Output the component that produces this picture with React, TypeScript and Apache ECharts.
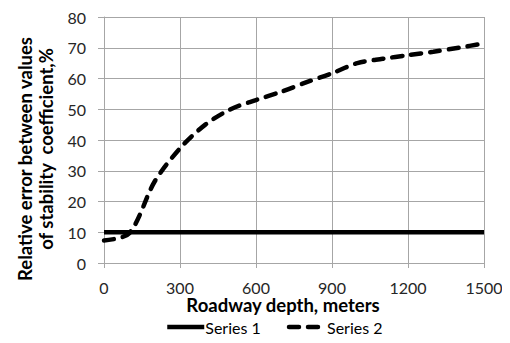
import React, { useEffect, useRef } from "react";
import * as echarts from "echarts";

const depths = [0, 100, 200, 300, 400, 500, 600, 700, 800, 900, 1000, 1100, 1200, 1300, 1400, 1500];
const series1Values = [10, 10, 10, 10, 10, 10, 10, 10, 10, 10, 10, 10, 10, 10, 10, 10];
const series2Values = [7.3, 9.7, 26.5, 37.3, 45, 50, 53, 55.7, 58.8, 61.7, 65, 66.4, 67.6, 68.7, 70, 71.4];
const seriesNames = ["Series 1", "Series 2"];
const xTitle = "Roadway depth, meters";
const yTitleLines = ["Relative error between values", "of stability  coefficient,%"];

const FONT = "Lato, 'Open Sans', sans-serif";

export default function App() {
  const ref = useRef<HTMLDivElement>(null);
  useEffect(() => {
    if (!ref.current) return;
    const chart = echarts.init(ref.current, undefined, { renderer: "svg" });
    const gridColor = "#a6a6a6";
    chart.setOption({
      animation: false,
      backgroundColor: "#ffffff",
      grid: { left: 104, right: 26, top: 17, bottom: 80 },
      xAxis: {
        type: "value",
        min: 0,
        max: 1500,
        interval: 300,
        axisLine: { show: true, lineStyle: { color: gridColor, width: 1 } },
        axisTick: { show: true, length: 5, lineStyle: { color: gridColor } },
        splitLine: { show: true, lineStyle: { color: gridColor, width: 1 } },
        axisLabel: {
          color: "#262626",
          fontSize: 16,
          fontFamily: FONT,
          margin: 16,
          formatter: (v: number) => String(v),
        },
      },
      yAxis: {
        type: "value",
        min: 0,
        max: 80,
        interval: 10,
        axisLine: { show: true, lineStyle: { color: gridColor, width: 1 } },
        axisTick: { show: true, length: 6, lineStyle: { color: gridColor } },
        splitLine: { show: true, lineStyle: { color: gridColor, width: 1 } },
        axisLabel: { color: "#262626", fontSize: 16, fontFamily: FONT, margin: 18 },
      },
      legend: {
        left: 165,
        top: 319,
        padding: 0,
        itemWidth: 37,
        itemHeight: 14,
        itemGap: 26,
        itemStyle: { opacity: 0 },
        lineStyle: { width: 4.5 },
        textStyle: { color: "#000", fontSize: 16, fontFamily: FONT, padding: [0, 0, 0, -4] },
        data: seriesNames,
      },
      graphic: [
        {
          type: "text",
          x: 283,
          y: 305,
          style: {
            text: xTitle,
            font: `bold 18.5px ${FONT}`,
            fill: "#000",
            align: "center",
            verticalAlign: "middle",
          },
        },
        {
          type: "text",
          x: 25,
          y: 159,
          rotation: Math.PI / 2,
          style: {
            text: yTitleLines[0],
            font: `bold 18.5px ${FONT}`,
            fill: "#000",
            align: "center",
            verticalAlign: "middle",
          },
        },
        {
          type: "text",
          x: 46,
          y: 149,
          rotation: Math.PI / 2,
          style: {
            text: yTitleLines[1],
            font: `bold 18.5px ${FONT}`,
            fill: "#000",
            align: "center",
            verticalAlign: "middle",
          },
        },
      ],
      series: [
        {
          name: seriesNames[0],
          type: "line",
          data: depths.map((d, i) => [d, series1Values[i]]),
          symbol: "none",
          lineStyle: { color: "#000", width: 4.5, type: "solid" },
          itemStyle: { color: "#000" },
          z: 3,
        },
        {
          name: seriesNames[1],
          type: "line",
          data: depths.map((d, i) => [d, series2Values[i]]),
          symbol: "none",
          smooth: 0.3,
          lineStyle: { color: "#000", width: 4.5, type: [10, 9], cap: "round" },
          itemStyle: { color: "#000" },
          z: 2,
        },
      ],
    });
    return () => chart.dispose();
  }, []);
  return <div ref={ref} style={{ width: 510, height: 343, margin: -8 }} />;
}
